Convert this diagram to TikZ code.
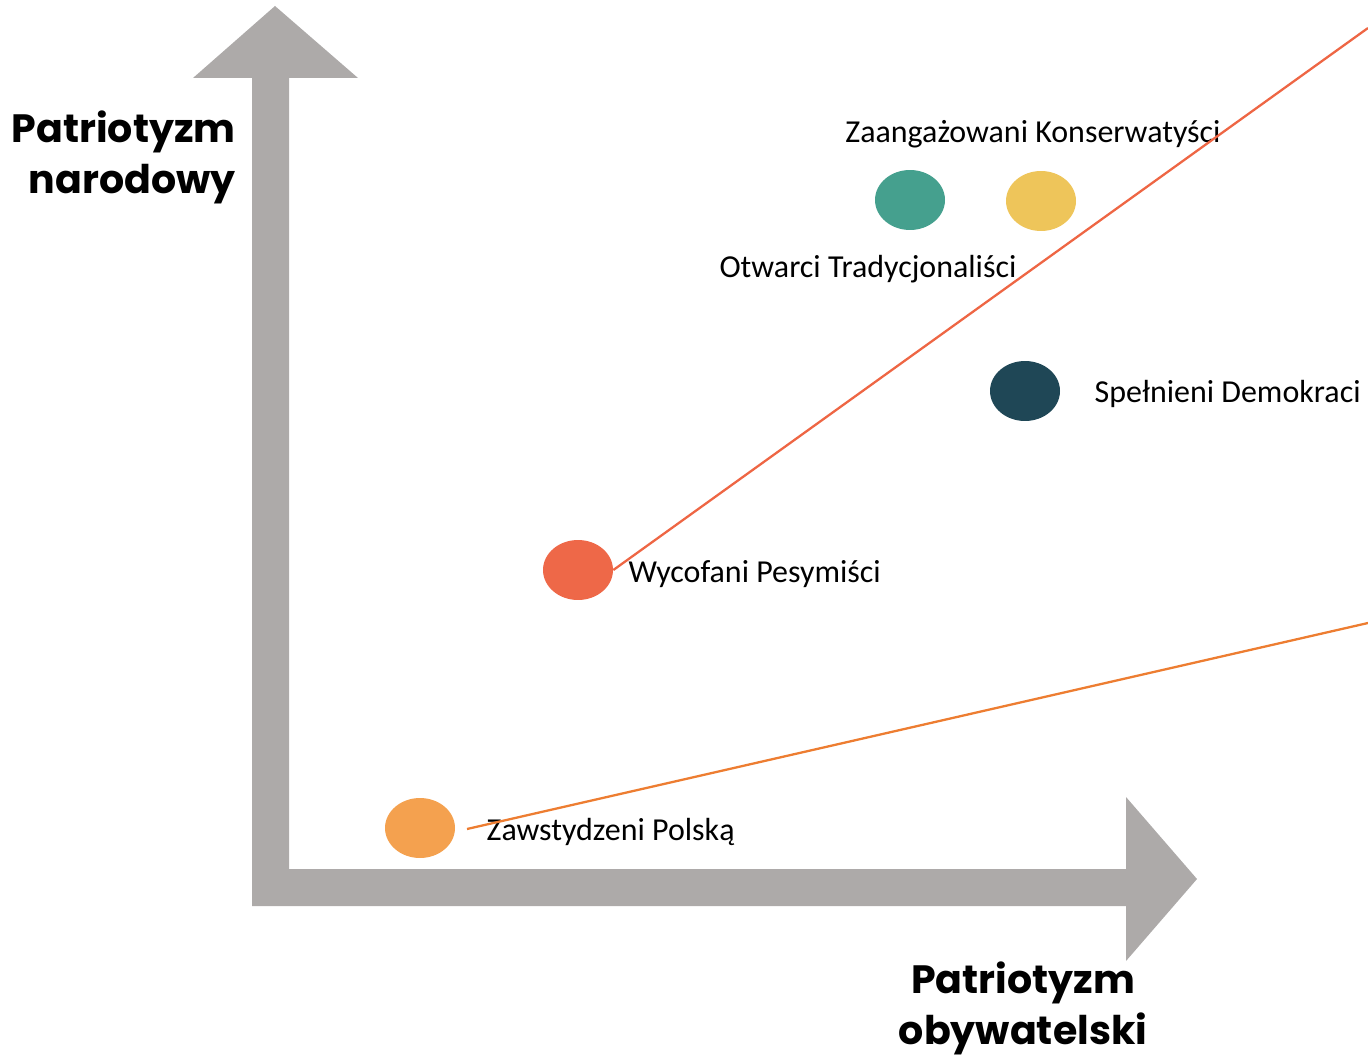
\documentclass[tikz,border=0pt]{standalone}
\usepackage{fontspec}
\setmainfont{Carlito}
\newfontfamily\headfont{Poppins}
\usepackage{tikz}
\usetikzlibrary{positioning,shapes.geometric}
\definecolor{axisgray}{HTML}{ADAAA9}
\definecolor{shameorange}{HTML}{F4A14F}
\definecolor{pessred}{HTML}{EE6848}
\definecolor{tradteal}{HTML}{45A08E}
\definecolor{consyellow}{HTML}{EEC55A}
\definecolor{demonavy}{HTML}{1F4756}
\definecolor{lineorange}{HTML}{ED7D31}
\definecolor{linered}{HTML}{EE6644}

\begin{document}
\begin{tikzpicture}[x=0.02cm,y=-0.02cm,
  blob/.style={ellipse,inner sep=0pt,minimum width=1.4cm,minimum height=1.2cm},
  lbl/.style={inner sep=0pt,font=\fontsize{18.2}{22}\selectfont},
  head/.style={inner sep=0pt,font=\headfont\bfseries\fontsize{22.5}{29.5}\selectfont}]
\useasboundingbox (0,0) rectangle (1368,1057);
% axes
\fill[axisgray] (252,906) -- (252,78) -- (193,78) -- (275,6) -- (358,78) -- (289,78)
  -- (289,869) -- (1126,869) -- (1126,797) -- (1197,879) -- (1126,961) -- (1126,906) -- cycle;
\node[head,align=right,anchor=north east] (ylab) at (236,110) {Patriotyzm\\narodowy};
\node[head,align=center,anchor=north] (xlab) at (1023,961) {Patriotyzm\\obywatelski};
% segments
\node[blob,fill=shameorange] (zp) at (420,828) {};
\node[blob,fill=pessred] (wp) at (578,570) {};
\node[blob,fill=tradteal] (ot) at (910,200) {};
\node[blob,fill=consyellow] (zk) at (1041,201) {};
\node[blob,fill=demonavy] (sd) at (1025,391) {};
\node[lbl,right=0.62cm of zp,yshift=-0.08cm] (zpl) {Zawstydzeni Polską};
\node[lbl,right=0.3cm of wp,yshift=-0.08cm] (wpl) {Wycofani Pesymiści};
\node[lbl,right=0.68cm of sd,yshift=-0.06cm] (sdl) {Spełnieni Demokraci};
\node[lbl] (otl) at (868,269) {Otwarci Tradycjonaliści};
\node[lbl] (zkl) at (1033,134) {Zaangażowani Konserwatyści};
% lines
\coordinate (redend) at (1368,28);
\coordinate (orgstart) at (467,829);
\coordinate (orgend) at (1368,623);
\draw[linered,line width=1.3pt] (wp.east) -- (redend);
\draw[lineorange,line width=1.3pt] (orgstart) -- (orgend);
\end{tikzpicture}
\end{document}
